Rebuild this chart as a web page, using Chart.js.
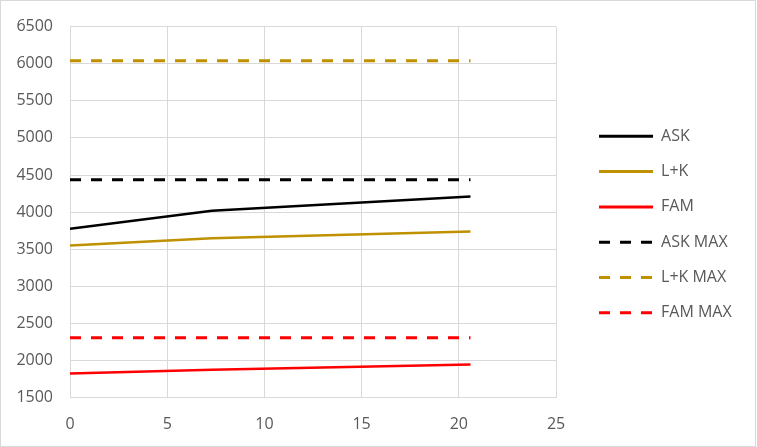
<!DOCTYPE html>
<html>
<head>
<meta charset="utf-8">
<script src="https://cdn.jsdelivr.net/npm/chart.js@4/dist/chart.umd.min.js"></script>
<style>
  html, body { margin: 0; padding: 0; background: #ffffff; }
  #c { display: block; }
</style>
</head>
<body>
<canvas id="c" width="757" height="447"></canvas>
<script>
// ---- data ----
const seriesX   = [0, 7.3, 20.6];
const askValues = [3775, 4020, 4212];
const lkValues  = [3552, 3650, 3740];
const famValues = [1826, 1877, 1947];

const maxX      = [0, 20.6];
const askMax    = [4435, 4435];
const lkMax     = [6041, 6041];
const famMax    = [2308, 2308];

const seriesNames = ['ASK', 'L+K', 'FAM', 'ASK MAX', 'L+K MAX', 'FAM MAX'];
const xTicks = [0, 5, 10, 15, 20, 25];
const yTicks = [1500, 2000, 2500, 3000, 3500, 4000, 4500, 5000, 5500, 6000, 6500];

// ---- helpers ----
const toPts = (xs, ys) => xs.map((x, i) => ({ x: x, y: ys[i] }));
const BLACK = '#000000', GOLD = '#BF9000', RED = '#FF0000';
const FONT = { family: "'Open Sans', 'Liberation Sans', sans-serif", size: 16 };
const TXT = '#595959';
const GRID = '#d9d9d9';
const LEGEND_GAP = 23.7;

function solid(label, xs, ys, color) {
  return { label, data: toPts(xs, ys), borderColor: color, backgroundColor: color,
           borderWidth: 2.5, pointRadius: 0, tension: 0, borderCapStyle: 'butt' };
}
function dashed(label, xs, ys, color) {
  return { label, data: toPts(xs, ys), borderColor: color, backgroundColor: color,
           borderWidth: 3, pointRadius: 0, tension: 0, borderDash: [11, 10], borderCapStyle: 'butt' };
}

const frame = {
  id: 'frame',
  afterLayout(chart) {
    const L = chart.legend;
    if (!L) return;
    const w = L.right - L.left;
    L.left = chart.chartArea.right + LEGEND_GAP;
    L.right = L.left + w;
    L.top = chart.chartArea.top;
    L.bottom = chart.chartArea.bottom + 24.8;
    if (L.adjustHitBoxes) L.adjustHitBoxes();
  },
  beforeDraw(chart) {
    const ctx = chart.ctx;
    ctx.save();
    ctx.fillStyle = '#ffffff';
    ctx.fillRect(0, 0, chart.width, chart.height);
    ctx.restore();
  },
  afterDraw(chart) {
    const ctx = chart.ctx;
    ctx.save();
    ctx.strokeStyle = GRID;
    ctx.lineWidth = 1;
    ctx.strokeRect(0.5, 0.5, chart.width - 2, chart.height - 1);
    ctx.restore();
  }
};

new Chart(document.getElementById('c'), {
  type: 'line',
  data: {
    datasets: [
      solid(seriesNames[0], seriesX, askValues, BLACK),
      solid(seriesNames[1], seriesX, lkValues, GOLD),
      solid(seriesNames[2], seriesX, famValues, RED),
      dashed(seriesNames[3], maxX, askMax, BLACK),
      dashed(seriesNames[4], maxX, lkMax, GOLD),
      dashed(seriesNames[5], maxX, famMax, RED)
    ]
  },
  options: {
    responsive: false,
    animation: false,
    devicePixelRatio: 1,
    layout: { padding: { left: 0, right: 39, top: 24, bottom: 4.3 } },
    plugins: {
      tooltip: { enabled: false },
      legend: {
        position: 'right',
        labels: {
          usePointStyle: true,
          pointStyle: 'line',
          pointStyleWidth: 54,
          padding: 19.3,
          color: TXT,
          font: FONT,
          generateLabels: chart =>
            Chart.defaults.plugins.legend.labels.generateLabels(chart).map(item => {
              const ds = chart.data.datasets[item.datasetIndex];
              return Object.assign({}, item, {
                lineDash: ds.borderDash || [],
                lineWidth: 3,
                strokeStyle: ds.borderColor,
                fillStyle: ds.borderColor,
                lineCap: 'butt'
              });
            })
        }
      }
    },
    scales: {
      x: {
        type: 'linear',
        min: xTicks[0], max: xTicks[xTicks.length - 1],
        afterBuildTicks: s => { s.ticks = xTicks.map(v => ({ value: v })); },
        afterFit: s => { s.height = 45; },
        grid: { color: GRID, lineWidth: 1, drawTicks: false },
        border: { color: GRID, width: 1 },
        ticks: { color: TXT, font: FONT, padding: 17, maxRotation: 0, callback: v => String(v) }
      },
      y: {
        type: 'linear',
        min: yTicks[0], max: yTicks[yTicks.length - 1],
        afterBuildTicks: s => { s.ticks = yTicks.map(v => ({ value: v })); },
        afterFit: s => { s.width = 70; },
        grid: { color: GRID, lineWidth: 1, drawTicks: false },
        border: { color: GRID, width: 1 },
        ticks: { color: TXT, font: FONT, padding: 17, callback: v => String(v) }
      }
    }
  },
  plugins: [frame]
});
</script>
</body>
</html>
